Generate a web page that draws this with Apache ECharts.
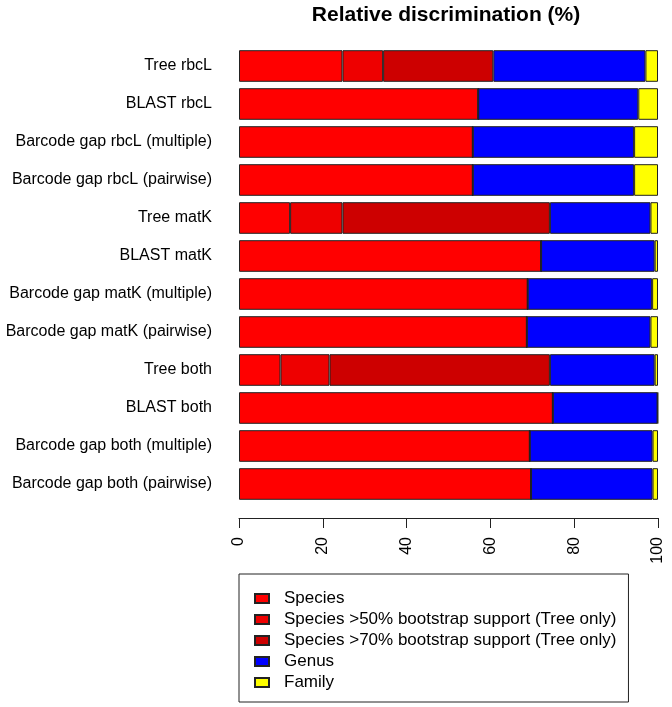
<!DOCTYPE html>
<html>
<head>
<meta charset="utf-8">
<script src="https://cdn.jsdelivr.net/npm/echarts@6/dist/echarts.min.js"></script>
<style>
html,body{margin:0;padding:0;background:#fff;}
#chart{width:672px;height:707px;}
</style>
</head>
<body>
<div id="chart"></div>
<script>
const categories = ['Tree rbcL','BLAST rbcL','Barcode gap rbcL (multiple)','Barcode gap rbcL (pairwise)','Tree matK','BLAST matK','Barcode gap matK (multiple)','Barcode gap matK (pairwise)','Tree both','BLAST both','Barcode gap both (multiple)','Barcode gap both (pairwise)'];
const species = [24.7, 57.1, 55.8, 55.8, 12.2, 72.1, 68.9, 68.7, 9.9, 74.9, 69.4, 69.7];
const boot50  = [9.7, 0, 0, 0, 12.5, 0, 0, 0, 11.7, 0, 0, 0];
const boot70  = [26.3, 0, 0, 0, 49.5, 0, 0, 0, 52.6, 0, 0, 0];
const genus   = [36.3, 38.2, 38.5, 38.5, 24.0, 27.1, 29.7, 29.5, 25.0, 25.0, 29.3, 29.0];
const family  = [3.0, 4.7, 5.7, 5.7, 1.8, 0.8, 1.4, 1.8, 0.8, 0.1, 1.3, 1.3];
const seriesNames = ['Species','Species >50% bootstrap support (Tree only)','Species >70% bootstrap support (Tree only)','Genus','Family'];
const xTicks = [0, 20, 40, 60, 80, 100];

const FONT = '"Liberation Sans", Arial, sans-serif';
const colors = ['#FF0000','#EE0000','#CD0000','#0000FF','#FFFF00'];
const values = [species, boot50, boot70, genus, family];

const chart = echarts.init(document.getElementById('chart'), null, {renderer:'canvas'});
chart.setOption({
  animation: false,
  backgroundColor: '#fff',
  textStyle: {fontFamily: FONT},
  title: {
    text: 'Relative discrimination (%)',
    left: 441, top: 0, textAlign: 'center',
    textStyle: {fontFamily: FONT, fontSize: 21, fontWeight: 'bold', color: '#000'}
  },
  grid: {left: 239, right: 14, top: 47, height: 456},
  xAxis: {
    type: 'value', min: 0, max: 100, interval: 20,
    offset: 15,
    splitLine: {show: false},
    axisLine: {show: true, lineStyle: {color: '#222', width: 1}},
    axisTick: {show: true, length: 10, lineStyle: {color: '#222'}},
    axisLabel: {
      rotate: 90, margin: 19, fontSize: 16, color: '#000', fontFamily: FONT,
      formatter: function (v) { return xTicks.indexOf(v) >= 0 ? String(v) : ''; }
    }
  },
  yAxis: {
    type: 'category', data: categories, inverse: true,
    axisLine: {show: false}, axisTick: {show: false}, splitLine: {show: false},
    axisLabel: {margin: 27, fontSize: 16, color: '#000', fontFamily: FONT}
  },
  legend: {
    orient: 'vertical', left: 239, top: 574,
    padding: [16, 12, 11, 15],
    borderColor: '#222', borderWidth: 1,
    itemWidth: 14, itemHeight: 9, itemGap: 4,
    icon: 'rect',
    textStyle: {fontSize: 17, lineHeight: 16, color: '#000', fontFamily: FONT, padding: [0, 0, 0, 10]},
    data: seriesNames
  },
  series: seriesNames.map((n, i) => ({
    name: n, type: 'bar', stack: 'total',
    barWidth: 31.6,
    data: values[i],
    itemStyle: {color: colors[i], borderColor: '#222', borderWidth: 1}
  }))
});
</script>
</body>
</html>
